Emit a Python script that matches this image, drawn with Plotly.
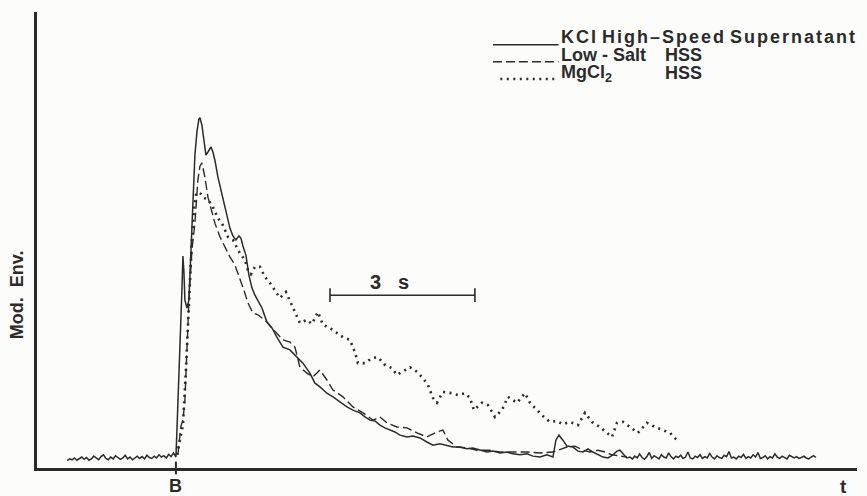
import numpy as np
import plotly.graph_objects as go

# ---- time axis: seconds after stimulus B; amplitude in arbitrary envelope units ----
X_RANGE = [-2.876, 14.1]
Y_RANGE = [0, 100]

# pre-stimulus baseline (shared by the three recordings)
base_t = np.round(np.arange(-2.25, -0.025, 0.05), 2)
base_y = [1.6, 2.0, 1.8, 2.2, 1.7, 2.1, 2.4, 1.9, 2.3, 1.7,
          2.0, 2.6, 2.2, 1.8, 2.5, 2.9, 2.1, 1.8, 2.4, 2.0,
          2.7, 2.3, 1.9, 2.2, 2.8, 2.0, 2.4, 1.8, 2.3, 2.6,
          2.1, 2.5, 2.0, 2.8, 2.3, 2.1, 2.6, 2.2, 2.9, 2.4,
          2.7, 2.2, 3.0, 2.5, 3.3]

# KCl high-speed supernatant: response
kcl_t = [0.000, 0.021, 0.062, 0.104, 0.124, 0.145, 0.166, 0.186, 0.228, 0.269,
         0.311, 0.352, 0.393, 0.435, 0.476, 0.497, 0.538, 0.580, 0.621, 0.663,
         0.725, 0.766, 0.807, 0.870, 0.932, 0.994, 1.056, 1.118, 1.180, 1.242,
         1.304, 1.346, 1.387, 1.449, 1.511, 1.574, 1.636, 1.698, 1.781, 1.884,
         1.988, 2.091, 2.215, 2.360, 2.505, 2.629, 2.774, 2.878, 2.981, 3.126,
         3.251, 3.395, 3.540, 3.665, 3.810, 3.913, 4.017, 4.120, 4.224, 4.327,
         4.431, 4.534, 4.638, 4.783, 4.907, 5.052, 5.197, 5.321, 5.466, 5.611,
         5.735, 5.880, 6.025, 6.149, 6.294, 6.439, 6.563, 6.708, 6.853, 6.977,
         7.122, 7.267, 7.391, 7.536, 7.681, 7.805, 7.867, 7.930, 8.012, 8.095,
         8.219, 8.323, 8.427, 8.530, 8.634, 8.737, 8.841, 8.944, 9.048, 9.130,
         9.193, 9.275, 9.338]
kcl_y = [2.4, 8.3, 19.3, 30.3, 39.0, 46.5, 43.0, 36.8, 35.1, 36.8,
         47.8, 61.0, 68.6, 73.7, 76.5, 76.8, 75.2, 71.9, 68.6, 69.3,
         70.4, 69.3, 67.5, 63.8, 61.0, 58.8, 55.5, 52.6, 50.9, 50.0,
         50.9, 50.4, 48.7, 46.7, 42.3, 39.5, 37.9, 36.8, 35.1, 32.0,
         30.7, 28.7, 26.5, 25.9, 24.3, 23.0, 20.8, 18.6, 17.8, 16.4,
         15.6, 14.5, 13.4, 12.7, 12.1, 11.2, 10.5, 10.3, 9.4, 8.8,
         8.3, 7.9, 7.2, 6.8, 7.0, 6.6, 5.7, 5.0, 5.3, 5.0,
         4.6, 4.6, 4.2, 4.4, 3.9, 3.5, 3.7, 3.3, 3.5, 3.1,
         2.9, 3.1, 2.6, 2.4, 2.9, 2.4, 6.1, 7.2, 6.1, 4.8,
         4.6, 3.7, 3.5, 4.2, 3.5, 2.9, 2.4, 2.2, 2.9, 3.7,
         3.9, 2.9, 2.2]

# KCl trace after return to baseline
tail_t = np.round(np.arange(9.40, 13.26, 0.05), 2)
tail_y = [2.4, 2.0, 2.6, 2.2, 3.1, 2.3, 1.9, 2.5, 3.4, 2.1,
          2.7, 2.3, 2.0, 2.9, 2.4, 2.2, 3.3, 2.5, 2.0, 2.6,
          2.3, 2.8, 2.1, 2.4, 3.5, 2.2, 2.0, 2.6, 2.3, 2.9,
          2.1, 2.5, 2.2, 3.2, 2.4, 2.0, 2.7, 2.3, 2.1, 2.8,
          2.5, 3.6, 2.2, 2.4, 2.0, 2.6, 2.3, 3.0, 2.1, 2.5,
          2.2, 2.9, 2.4, 3.4, 2.1, 2.3, 2.7, 2.0, 2.5, 2.2,
          3.1, 2.4, 2.1, 2.6, 2.3, 2.0, 2.8, 2.4, 2.2, 2.5,
          2.1, 2.3, 2.6, 2.2, 2.0, 2.4, 2.7, 2.3]

# Low-salt HSS
low_t = [0.041, 0.083, 0.104, 0.145, 0.186, 0.228, 0.269, 0.331, 0.393, 0.455,
         0.497, 0.538, 0.600, 0.663, 0.745, 0.807, 0.911, 1.014, 1.118, 1.222,
         1.325, 1.408, 1.491, 1.594, 1.698, 1.781, 1.884, 1.988, 2.091, 2.215,
         2.360, 2.464, 2.567, 2.712, 2.836, 2.981, 3.126, 3.251, 3.458, 3.665,
         3.872, 4.079, 4.224, 4.369, 4.576, 4.783, 4.990, 5.197, 5.404, 5.528,
         5.631, 5.818, 6.025, 6.232, 6.501, 6.708, 6.977, 7.267, 7.536, 7.805,
         8.095, 8.261, 8.427, 8.571, 8.737, 8.882, 9.027, 9.193, 9.338]
low_y = [2.9, 7.9, 9.2, 10.5, 14.9, 25.9, 36.8, 47.8, 53.7, 63.2,
         66.2, 66.9, 63.8, 59.4, 55.9, 53.7, 50.7, 48.5, 46.3, 44.5,
         41.7, 39.0, 36.2, 34.0, 33.6, 32.9, 32.0, 30.7, 29.6, 28.1,
         27.6, 26.5, 22.1, 20.8, 20.0, 21.5, 19.3, 17.1, 15.6, 13.4,
         12.1, 10.5, 11.2, 9.9, 9.0, 8.8, 7.7, 6.8, 7.9, 8.3,
         6.1, 4.6, 4.4, 3.9, 3.9, 3.5, 3.5, 3.5, 3.3, 3.5,
         4.6, 4.8, 3.9, 3.5, 3.9, 3.5, 2.9, 2.6, 2.4]

# MgCl2 HSS
mg_t = [0.021, 0.083, 0.145, 0.207, 0.269, 0.331, 0.373, 0.414, 0.455, 0.518,
        0.559, 0.621, 0.663, 0.745, 0.807, 0.870, 0.952, 1.014, 1.077, 1.180,
        1.263, 1.325, 1.429, 1.491, 1.553, 1.636, 1.739, 1.843, 1.946, 2.050,
        2.153, 2.277, 2.381, 2.484, 2.567, 2.712, 2.816, 2.940, 3.043, 3.188,
        3.333, 3.458, 3.602, 3.706, 3.768, 3.913, 4.058, 4.182, 4.327, 4.472,
        4.576, 4.700, 4.845, 4.990, 5.114, 5.217, 5.321, 5.404, 5.528, 5.714,
        5.839, 5.983, 6.087, 6.170, 6.335, 6.460, 6.605, 6.749, 6.874, 7.060,
        7.226, 7.329, 7.474, 7.598, 7.743, 7.888, 8.012, 8.157, 8.323, 8.468,
        8.613, 8.778, 8.923, 9.027, 9.130, 9.255, 9.400, 9.565, 9.752, 9.917,
        10.083, 10.228, 10.373]
mg_y = [2.9, 6.1, 9.4, 21.5, 36.8, 50.0, 56.6, 59.9, 60.5, 60.1,
        59.4, 59.0, 58.8, 57.7, 56.1, 54.8, 53.7, 52.2, 50.7, 50.0,
        48.5, 47.1, 45.6, 43.4, 42.5, 44.1, 44.1, 41.9, 40.6, 39.0,
        37.3, 38.6, 36.2, 33.6, 31.8, 32.5, 31.6, 34.2, 31.4, 30.7,
        29.6, 28.7, 28.1, 25.4, 23.0, 23.0, 24.1, 24.3, 22.6, 21.9,
        20.4, 21.1, 22.1, 21.1, 19.7, 18.2, 15.4, 14.3, 16.7, 16.4,
        16.0, 16.4, 15.4, 12.7, 14.3, 13.8, 11.2, 12.7, 15.6, 14.3,
        16.4, 14.3, 12.7, 11.4, 10.1, 10.3, 9.6, 10.1, 9.4, 12.1,
        10.1, 9.0, 7.7, 6.8, 9.9, 10.1, 9.0, 7.7, 9.9, 9.0,
        8.3, 7.7, 6.1]

# time-scale bar
SCALE_START = 3.19
SCALE_LEN = 3.0
SCALE_Y = 37.9

INK = "#2b2b2b"
FONT = "Liberation Sans, Arial, sans-serif"
SOLID_W, DASH_W, DOT_W = 1.5, 1.4, 2.6
DASH_PAT, DOT_PAT = "9px,4px", "2px,4.5px"

fig = go.Figure()

# baseline + KCl trace joined into one continuous solid line
kcl_full_t = list(base_t) + kcl_t + list(tail_t)
kcl_full_y = base_y + kcl_y + tail_y
fig.add_trace(go.Scatter(x=kcl_full_t, y=kcl_full_y, mode="lines",
                         line=dict(color=INK, width=SOLID_W), hoverinfo="skip"))
fig.add_trace(go.Scatter(x=low_t, y=low_y, mode="lines",
                         line=dict(color=INK, width=DASH_W, dash=DASH_PAT), hoverinfo="skip"))
fig.add_trace(go.Scatter(x=mg_t, y=mg_y, mode="lines",
                         line=dict(color=INK, width=DOT_W, dash=DOT_PAT), hoverinfo="skip"))

shapes = []
# 3 s scale bar with end ticks
shapes.append(dict(type="line", xref="x", yref="y", x0=SCALE_START, x1=SCALE_START + SCALE_LEN,
                   y0=SCALE_Y, y1=SCALE_Y, line=dict(color=INK, width=1.6)))
for xe in (SCALE_START, SCALE_START + SCALE_LEN):
    shapes.append(dict(type="line", xref="x", yref="y", x0=xe, x1=xe,
                       y0=SCALE_Y - 1.5, y1=SCALE_Y + 1.5, line=dict(color=INK, width=1.6)))
# stimulus mark B crossing the time axis
shapes.append(dict(type="line", xref="x", yref="paper", x0=0, x1=0, y0=-0.014, y1=0.014,
                   line=dict(color=INK, width=2)))

# legend samples
leg_rows = [(0.928, None, SOLID_W, 0.556), (0.891, DASH_PAT, DASH_W, 0.556),
            (0.853, DOT_PAT, DOT_W, 0.565)]
for yy, dash, w, x0 in leg_rows:
    ln = dict(color=INK, width=w)
    if dash:
        ln["dash"] = dash
    shapes.append(dict(type="line", xref="paper", yref="paper", x0=x0, x1=0.636,
                       y0=yy, y1=yy, line=ln))

annotations = []
def txt(text, x, y, xref="paper", yref="paper", size=18, xanchor="left", **kw):
    annotations.append(dict(text=text, x=x, y=y, xref=xref, yref=yref, showarrow=False,
                            xanchor=xanchor, yanchor="middle",
                            font=dict(family=FONT, size=size, color=INK), **kw))

WIDE = '<span style="letter-spacing:2px">{}</span>'
txt("<b>" + WIDE.format("KCl") + "</b>", 0.637, 0.946)
txt("<b>" + WIDE.format("High–Speed") + "</b>", 0.687, 0.946)
txt("<b>" + WIDE.format("Supernatant") + "</b>", 0.843, 0.946)
txt("<b>Low - Salt</b>", 0.637, 0.906)
txt("<b>HSS</b>", 0.763, 0.906)
txt("<b>MgCl<sub>2</sub></b>", 0.637, 0.866)
txt("<b>HSS</b>", 0.763, 0.866)

# scale-bar caption
txt("<b>3</b>", SCALE_START + 0.95, SCALE_Y + 3.0, xref="x", yref="y", size=20, xanchor="center")
txt("<b>s</b>", SCALE_START + 1.53, SCALE_Y + 3.0, xref="x", yref="y", size=20, xanchor="center")

# axis labels
txt("<b>B</b>", 0, -0.040, xref="x", size=18, xanchor="center")
txt("<b>t</b>", 0.983, -0.040, size=19, xanchor="center")
annotations.append(dict(text="<b>Mod.  Env.</b>", x=-0.025, y=0.38, xref="paper", yref="paper",
                        showarrow=False, textangle=-90, xanchor="center", yanchor="middle",
                        font=dict(family=FONT, size=18, color=INK)))

fig.update_layout(
    width=867, height=496,
    margin=dict(l=37, r=10, t=12, b=28),
    paper_bgcolor="#fcfcfb", plot_bgcolor="#fcfcfb",
    showlegend=False,
    shapes=shapes, annotations=annotations,
    xaxis=dict(range=X_RANGE, showgrid=False, zeroline=False, showticklabels=False, ticks="",
               showline=True, linecolor=INK, linewidth=2.5),
    yaxis=dict(range=Y_RANGE, showgrid=False, zeroline=False, showticklabels=False, ticks="",
               showline=True, linecolor=INK, linewidth=2.5),
)

fig.write_html("out.html")
